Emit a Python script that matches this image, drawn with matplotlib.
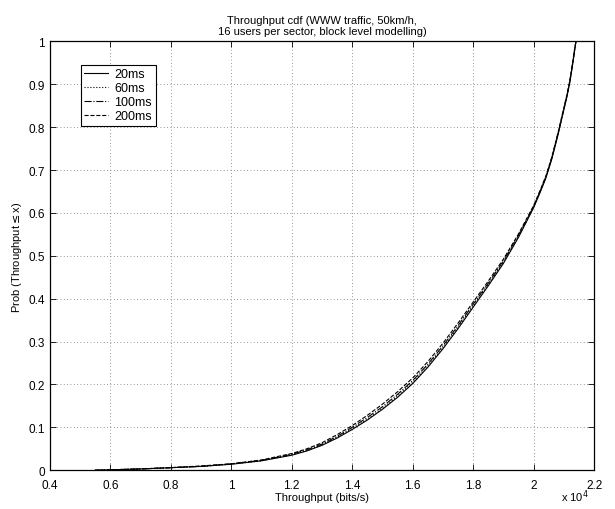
import numpy as np
import matplotlib.pyplot as plt

plt.rcParams['font.family'] = ['Liberation Sans', 'DejaVu Sans']

# throughput in units of 1e4 bits/s, cdf values
thr = [0.55, 0.6, 0.7, 0.8, 0.9, 1.0, 1.1, 1.2, 1.25, 1.3, 1.35, 1.4, 1.45, 1.5,
       1.55, 1.6, 1.65, 1.7, 1.75, 1.8, 1.85, 1.9, 1.95, 2.0, 2.02, 2.04, 2.06,
       2.08, 2.1, 2.11, 2.12, 2.13, 2.135, 2.14]
cdf_20 = [0.0, 0.001, 0.003, 0.006, 0.009, 0.014, 0.022, 0.035, 0.045, 0.058,
          0.075, 0.095, 0.117, 0.142, 0.17, 0.202, 0.24, 0.283, 0.33, 0.38, 0.43,
          0.482, 0.543, 0.612, 0.645, 0.68, 0.725, 0.78, 0.84, 0.87, 0.905, 0.95,
          0.975, 1.0]
cdf_60 = [0.0, 0.001, 0.003, 0.006, 0.009, 0.014, 0.022, 0.036, 0.046, 0.059,
          0.077, 0.097, 0.119, 0.144, 0.173, 0.205, 0.243, 0.286, 0.333, 0.383, 0.433,
          0.485, 0.545, 0.614, 0.647, 0.682, 0.727, 0.782, 0.842, 0.872, 0.907, 0.952,
          0.977, 1.0]
cdf_100 = [0.0, 0.001, 0.003, 0.006, 0.009, 0.015, 0.023, 0.037, 0.048, 0.061,
           0.079, 0.1, 0.123, 0.148, 0.177, 0.209, 0.247, 0.29, 0.337, 0.387, 0.436,
           0.488, 0.548, 0.615, 0.648, 0.683, 0.728, 0.783, 0.843, 0.873, 0.908, 0.953,
           0.978, 1.0]
cdf_200 = [0.0, 0.001, 0.003, 0.006, 0.01, 0.015, 0.024, 0.039, 0.05, 0.064,
           0.083, 0.104, 0.128, 0.154, 0.183, 0.215, 0.253, 0.296, 0.343, 0.392, 0.441,
           0.492, 0.551, 0.617, 0.65, 0.685, 0.73, 0.785, 0.845, 0.875, 0.91, 0.955,
           0.98, 1.0]

labels = ['20ms', '60ms', '100ms', '200ms']
styles = ['-', ':', '-.', '--']

fig = plt.figure(figsize=(6.15, 5.1), dpi=100)
ax = fig.add_axes([0.081, 0.076, 0.885, 0.841])

for y, lab, ls in zip([cdf_20, cdf_60, cdf_100, cdf_200], labels, styles):
    ax.plot(thr, y, color='black', linestyle=ls, linewidth=0.8, label=lab)

ax.set_xlim(0.4, 2.2)
ax.set_ylim(0, 1)
ax.set_xticks(np.arange(0.4, 2.21, 0.2))
ax.set_xticklabels(['0.4', '0.6', '0.8', '1', '1.2', '1.4', '1.6', '1.8', '2', '2.2'])
ax.set_yticks(np.arange(0, 1.01, 0.1))
ax.set_yticklabels(['0', '0.1', '0.2', '0.3', '0.4', '0.5', '0.6', '0.7', '0.8', '0.9', '1'])
ax.tick_params(direction='in', top=True, right=True, length=4, labelsize=8.5, width=0.6)
ax.tick_params(axis='x', pad=6)
ax.grid(True, linestyle=(0, (1, 3)), color='0.45', linewidth=0.6)
for s in ax.spines.values():
    s.set_linewidth(0.9)

ax.set_xlabel('Throughput (bits/s)', fontsize=8, labelpad=1)
ax.set_ylabel('Prob (Throughput$\\leq$x)', fontsize=8, labelpad=3)
ax.set_title('Throughput cdf (WWW traffic, 50km/h,\n16 users per sector, block level modelling)',
             fontsize=8, pad=5)
ax.text(0.965, -0.06, 'x 10$^4$', transform=ax.transAxes, fontsize=8, va='center', ha='center')

leg = ax.legend(loc='upper left', bbox_to_anchor=(0.045, 0.96), fontsize=9,
                fancybox=False, framealpha=1, edgecolor='black', handlelength=1.9,
                handletextpad=0.5, borderpad=0.3, labelspacing=0.15)
leg.get_frame().set_linewidth(0.8)

fig.savefig('out.png', dpi=100)
